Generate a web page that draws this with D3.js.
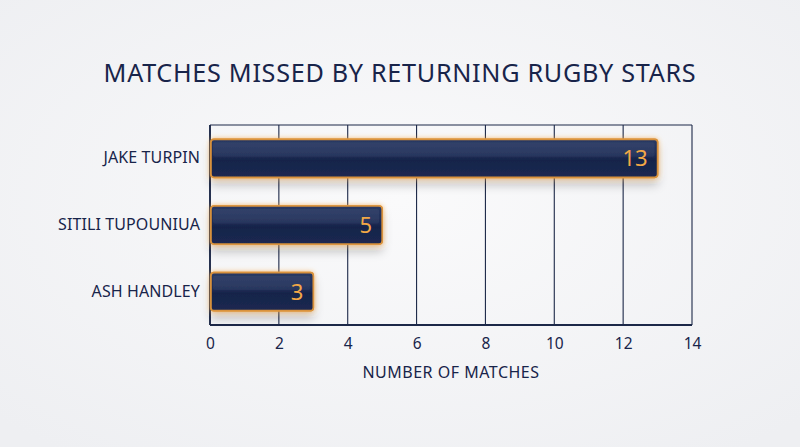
<!DOCTYPE html>
<html><head><meta charset="utf-8">
<script src="https://cdn.jsdelivr.net/npm/d3@7"></script>
<style>
html,body{margin:0;padding:0;background:#f3f4f6;}
svg{display:block;}
text{font-family:"Noto Sans",Lato,sans-serif;fill:#18244a;}
</style></head>
<body>
<script>
const players = ["JAKE TURPIN", "SITILI TUPOUNIUA", "ASH HANDLEY"];
const matchesMissed = [13, 5, 3];
const xTicks = [0, 2, 4, 6, 8, 10, 12, 14];
const titleText = "MATCHES MISSED BY RETURNING RUGBY STARS";
const xTitle = "NUMBER OF MATCHES";

const W = 800, H = 447;
const m = {left: 210, right: 108, top: 125, bottom: 122};
const svg = d3.select("body").append("svg").attr("width", W).attr("height", H);

const bg = svg.append("defs");
const rg = bg.append("radialGradient").attr("id","bgGrad").attr("cx","50%").attr("cy","45%").attr("r","70%");
rg.append("stop").attr("offset","0%").attr("stop-color","#fafafb");
rg.append("stop").attr("offset","100%").attr("stop-color","#eeeff2");
svg.append("rect").attr("width",W).attr("height",H).attr("fill","url(#bgGrad)");

const lg = bg.append("linearGradient").attr("id","barGrad").attr("x1",0).attr("y1",0).attr("x2",0).attr("y2",1);
lg.append("stop").attr("offset","0%").attr("stop-color","#2a3a64");
lg.append("stop").attr("offset","40%").attr("stop-color","#1f2e58");
lg.append("stop").attr("offset","55%").attr("stop-color","#17244a");
lg.append("stop").attr("offset","100%").attr("stop-color","#1b2951");

const f = bg.append("filter").attr("id","glow").attr("x","-10%").attr("y","-40%").attr("width","120%").attr("height","200%");
f.append("feDropShadow").attr("dx",0).attr("dy",7).attr("stdDeviation",5).attr("flood-color","#000").attr("flood-opacity",0.22).attr("result","s1");
f.append("feDropShadow").attr("in","SourceGraphic").attr("dx",0).attr("dy",0).attr("stdDeviation",2.5).attr("flood-color","#f6a23a").attr("flood-opacity",0.75).attr("result","s2");
const mg = f.append("feMerge");
mg.append("feMergeNode").attr("in","s1");
mg.append("feMergeNode").attr("in","s2");

const x = d3.scaleLinear().domain([0,14]).range([m.left, W - m.right]);
const y = d3.scaleBand().domain(players).range([m.top, H - m.bottom]).paddingInner(0.43).paddingOuter(0.215);

svg.append("text").attr("x", 400).attr("y", 82).attr("text-anchor","middle")
  .attr("font-size", 25.2).attr("letter-spacing", 0.7).text(titleText);

// grid
const g = svg.append("g");
g.selectAll("line.grid").data(xTicks).join("line")
  .attr("x1", d=>x(d)).attr("x2", d=>x(d)).attr("y1", m.top).attr("y2", H - m.bottom)
  .attr("stroke","#1c2848").attr("stroke-width",1.1);
g.append("line").attr("x1",m.left).attr("x2",W-m.right).attr("y1",m.top).attr("y2",m.top).attr("stroke","#1c2848").attr("stroke-width",1.1);
g.append("line").attr("x1",m.left).attr("x2",W-m.right).attr("y1",H-m.bottom).attr("y2",H-m.bottom).attr("stroke","#1c2848").attr("stroke-width",1.8);
g.append("line").attr("x1",m.left).attr("x2",m.left).attr("y1",m.top).attr("y2",H-m.bottom).attr("stroke","#1c2848").attr("stroke-width",1.8);

// x axis
const xa = svg.append("g").attr("transform",`translate(0,${H-m.bottom})`)
  .call(d3.axisBottom(x).tickValues(xTicks).tickSize(0).tickPadding(13));
xa.select(".domain").remove();
xa.selectAll("text").attr("font-size",15.5).attr("fill","#18244a").style("font-family",'"Noto Sans",Lato,sans-serif');

// y axis
const ya = svg.append("g").attr("transform",`translate(${m.left},0)`)
  .call(d3.axisLeft(y).tickSize(0).tickPadding(10));
ya.select(".domain").remove();
ya.selectAll("text").attr("font-size",16).attr("letter-spacing",0.1).attr("fill","#18244a").style("font-family",'"Noto Sans",Lato,sans-serif');

svg.append("text").attr("x", (m.left + W - m.right)/2).attr("y", 378).attr("text-anchor","middle")
  .attr("font-size",16).attr("letter-spacing",0.5).text(xTitle);

// bars
const data = players.map((p,i)=>({p, v: matchesMissed[i]}));
const bars = svg.append("g");
bars.selectAll("rect.bar").data(data).join("rect")
  .attr("x", x(0)+1).attr("y", d=>y(d.p)).attr("width", d=>x(d.v)-x(0)-1).attr("height", y.bandwidth())
  .attr("rx",3).attr("fill","url(#barGrad)").attr("stroke","#d9923c").attr("stroke-width",1.6)
  .attr("filter","url(#glow)");
// highlight strip
bars.selectAll("rect.hl").data(data).join("rect")
  .attr("x", x(0)+3).attr("y", d=>y(d.p)+3).attr("width", d=>x(d.v)-x(0)-6).attr("height", y.bandwidth()*0.38)
  .attr("rx",2).attr("fill","#ffffff").attr("opacity",0.05);
bars.selectAll("text.val").data(data).join("text")
  .attr("x", d=>x(d.v)-10).attr("y", d=>y(d.p)+y.bandwidth()/2).attr("dy","0.36em")
  .attr("text-anchor","end").attr("font-size",22).style("fill","#f2a846").text(d=>d.v);
</script>
</body></html>
